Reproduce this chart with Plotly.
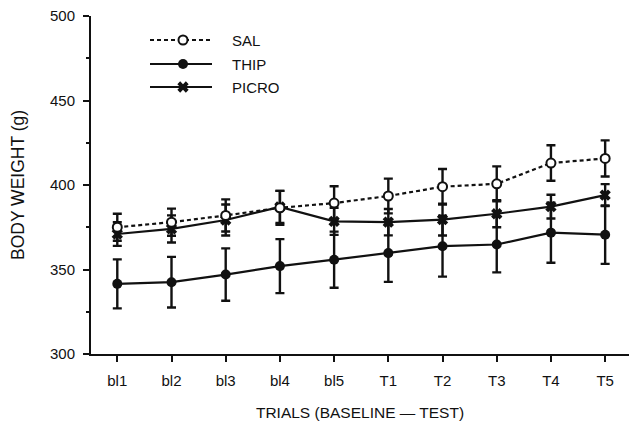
import plotly.graph_objects as go

trials = ["bl1", "bl2", "bl3", "bl4", "bl5", "T1", "T2", "T3", "T4", "T5"]

sal = [375, 378, 382, 386.5, 389.3, 393.5, 399, 400.7, 413, 415.7]
sal_err = [8, 8, 9.5, 10, 10, 10.3, 10.5, 10.3, 10.5, 10.7]

thip = [341.5, 342.5, 347, 352, 355.8, 359.7, 363.8, 364.8, 371.8, 370.6]
thip_err = [14.5, 15, 15.5, 16, 16.6, 17, 18, 16.5, 17.8, 17.3]

picro = [371, 374, 379.3, 387, 378.5, 378, 379.5, 383, 387.2, 394]
picro_err = [7, 8, 9.2, 9.5, 8, 7.8, 9.4, 8, 7, 6.5]

series_names = ["SAL", "THIP", "PICRO"]

INK = "#111111"
FONT = "Liberation Sans, Arial, Helvetica, sans-serif"

fig = go.Figure()

styles = {
    "SAL": dict(dash="4px,3px", symbol="circle", fill="white", size=9),
    "THIP": dict(dash="solid", symbol="circle", fill=INK, size=10),
    "PICRO": dict(dash="solid", symbol="x", fill=INK, size=10),
}
data = {"SAL": (sal, sal_err), "THIP": (thip, thip_err), "PICRO": (picro, picro_err)}

for name in ["THIP", "PICRO", "SAL"]:
    vals, errs = data[name]
    st = styles[name]
    fig.add_trace(go.Scatter(
        x=trials, y=vals, name=name, mode="lines+markers",
        line=dict(color=INK, width=2.2, dash=st["dash"]),
        marker=dict(symbol=st["symbol"], size=st["size"], color=st["fill"],
                    line=dict(color=INK, width=2 if st["fill"] == "white" else 0)),
        error_y=dict(type="data", array=errs, visible=True, color=INK,
                     thickness=2.4, width=4.5),
        showlegend=False,
    ))

# manual legend (overlay axes in pixel-like units)
leg_rows = [40, 64, 87]
for name, yrow in zip(series_names, leg_rows):
    st = styles[name]
    fig.add_trace(go.Scatter(
        x=[150, 212], y=[yrow, yrow], mode="lines", xaxis="x2", yaxis="y2",
        line=dict(color=INK, width=2.2, dash=st["dash"]), showlegend=False,
        hoverinfo="skip"))
    fig.add_trace(go.Scatter(
        x=[183], y=[yrow], mode="markers", xaxis="x2", yaxis="y2",
        marker=dict(symbol=st["symbol"], size=st["size"], color=st["fill"],
                    line=dict(color=INK, width=2 if st["fill"] == "white" else 0)),
        showlegend=False, hoverinfo="skip"))
    fig.add_annotation(x=230, y=yrow, xref="x2", yref="y2", text=name,
                       showarrow=False, xanchor="left", yanchor="middle",
                       font=dict(family=FONT, size=15, color=INK))

L, R, T, B = 91, 0, 16, 69
W, H = 629, 423

fig.update_layout(
    template="none",
    width=W, height=H,
    margin=dict(l=L, r=R, t=T, b=B, autoexpand=False),
    paper_bgcolor="white", plot_bgcolor="white",
    font=dict(family=FONT, size=15, color=INK),
    hovermode=False,
    xaxis=dict(
        range=[-0.485, 9.44], showgrid=False, zeroline=False, automargin=False,
        showline=True, linecolor=INK, linewidth=2,
        ticks="outside", ticklen=6, tickwidth=2, tickcolor=INK,
        ticklabelstandoff=6,
        tickfont=dict(family=FONT, size=15, color=INK),
        title=dict(text="TRIALS (BASELINE — TEST)", standoff=19,
                   font=dict(family=FONT, size=15.5, color=INK)),
    ),
    yaxis=dict(
        range=[300, 500], tickvals=[300, 350, 400, 450, 500],
        showgrid=False, zeroline=False, automargin=False,
        showline=True, linecolor=INK, linewidth=2,
        ticks="outside", ticklen=6, tickwidth=2, tickcolor=INK,
        ticklabelstandoff=5,
        tickfont=dict(family=FONT, size=15, color=INK),
        minor=dict(tickvals=[325, 375, 425, 475], ticks="outside",
                   ticklen=3, tickwidth=1.5, tickcolor=INK),
        title=dict(text="BODY WEIGHT (g)", standoff=21,
                   font=dict(family=FONT, size=17.5, color=INK)),
    ),
    xaxis2=dict(overlaying="x", range=[L, W - R], visible=False, fixedrange=True),
    yaxis2=dict(overlaying="y", range=[H - B, T], visible=False, fixedrange=True),
)

fig.write_html("out.html", config={"displayModeBar": False},
               post_script="document.body.style.margin='0';document.body.style.padding='0';")
